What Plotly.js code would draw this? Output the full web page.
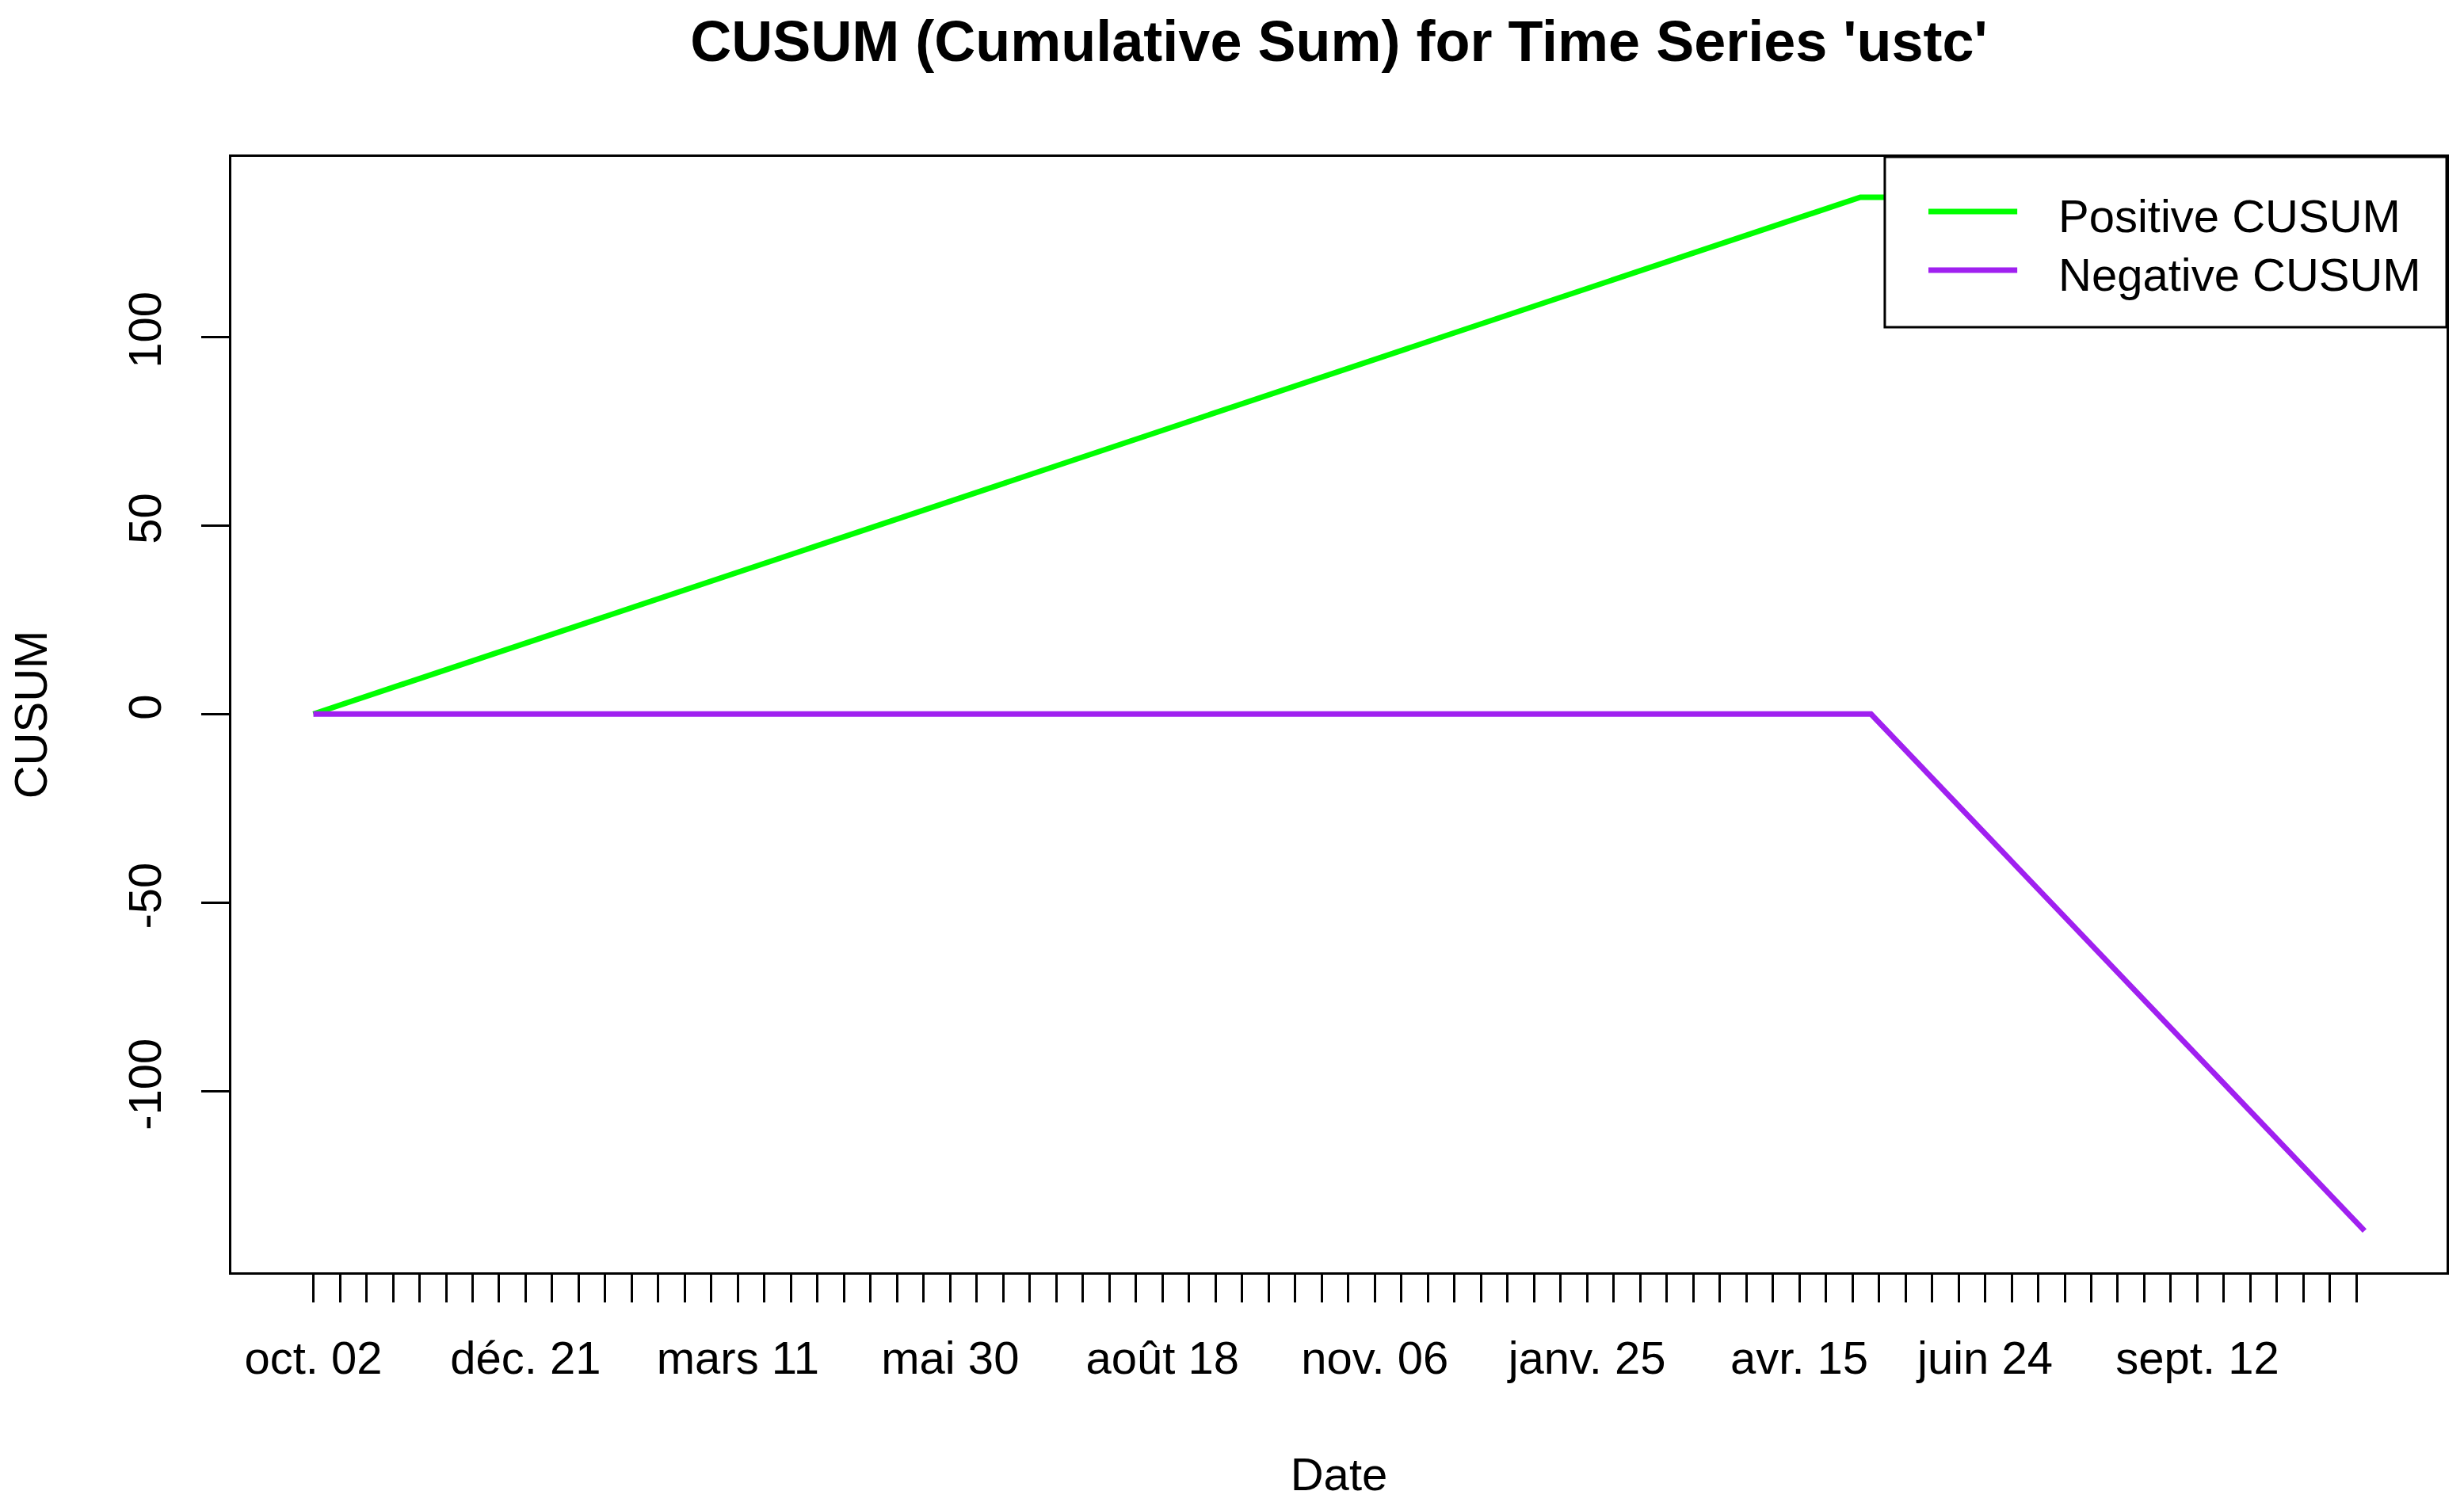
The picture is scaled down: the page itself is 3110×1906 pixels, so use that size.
<!DOCTYPE html>
<html>
<head>
<meta charset="utf-8">
<script src="https://cdn.plot.ly/plotly-3.0.1.min.js"></script>
<style>
  html, body { margin: 0; padding: 0; background: #ffffff; }
  #chart { width: 3110px; height: 1906px; }
</style>
</head>
<body>
<div id="chart"></div>
<script>
// ---- data ----
const seriesNames = ['Positive CUSUM', 'Negative CUSUM'];
const seriesColors = ['#00FF00', '#A020F0'];

const posDates = ['2020-10-02', '2022-05-08', '2022-11-14'];
const posValues = [0, 137, 137];

const negDates = ['2020-10-02', '2022-05-12', '2022-11-14'];
const negValues = [0, 0, -137];

// x tick marks every 10 days, labels only where R could fit them
const tickFirst = '2020-10-02';
const tickLast = '2022-11-11';
const tickStepDays = 10;
const labelDates = ['2020-10-02', '2020-12-21', '2021-03-11', '2021-05-30', '2021-08-18',
                    '2021-11-06', '2022-01-25', '2022-04-15', '2022-06-24', '2022-09-12'];
const labelTexts = ['oct. 02', 'déc. 21', 'mars 11', 'mai 30', 'août 18',
                    'nov. 06', 'janv. 25', 'avr. 15', 'juin 24', 'sept. 12'];

const yTickVals = [-100, -50, 0, 50, 100];
const yTickText = ['-100', '-50', '0', '50', '100'];

const xRange = ['2020-09-01 02:00', '2022-12-14 22:00'];
const yRange = [-148, 147.7];

// ---- build tick arrays ----
function iso(d) { return d.toISOString().slice(0, 10); }
const tickVals = [], tickText = [];
{
  let d = new Date(tickFirst + 'T00:00:00Z');
  const end = new Date(tickLast + 'T00:00:00Z');
  while (d <= end) {
    const s = iso(d);
    tickVals.push(s);
    const i = labelDates.indexOf(s);
    tickText.push(i >= 0 ? labelTexts[i] : '');
    d = new Date(d.getTime() + tickStepDays * 86400000);
  }
}

const FONT = 'Liberation Sans, Arial, Helvetica, sans-serif';

const traces = [
  { x: posDates, y: posValues, type: 'scatter', mode: 'lines', name: seriesNames[0],
    line: { color: seriesColors[0], width: 7 }, showlegend: false },
  { x: negDates, y: negValues, type: 'scatter', mode: 'lines', name: seriesNames[1],
    line: { color: seriesColors[1], width: 7 }, showlegend: false }
];

// legend drawn like R's legend() box (paper coords)
const legX0 = 0.7464, legX1 = 1.0, legY0 = 0.8473, legY1 = 1.0;
const legLineX0 = 0.7661, legLineX1 = 0.8062, legTextX = 0.8240;
const legRowY = [0.951, 0.8984];

const shapes = [
  { type: 'rect', xref: 'paper', yref: 'paper', x0: legX0, x1: legX1, y0: legY0, y1: legY1,
    fillcolor: '#ffffff', line: { color: '#000000', width: 3 }, layer: 'above' }
];
const annotations = [];
seriesNames.forEach((nm, i) => {
  shapes.push({ type: 'line', xref: 'paper', yref: 'paper', x0: legLineX0, x1: legLineX1,
    y0: legRowY[i], y1: legRowY[i], line: { color: seriesColors[i], width: 7 }, layer: 'above' });
  annotations.push({ xref: 'paper', yref: 'paper', x: legTextX, y: legRowY[i] - 0.004,
    xanchor: 'left', yanchor: 'middle', showarrow: false, text: nm,
    font: { family: FONT, size: 58, color: '#000000' } });
});

const layout = {
  width: 3110, height: 1906,
  margin: { l: 292, r: 22, t: 198, b: 300, pad: 0 },
  paper_bgcolor: '#ffffff', plot_bgcolor: '#ffffff',
  font: { family: FONT, size: 58, color: '#000000' },
  showlegend: false,
  title: {
    text: "CUSUM (Cumulative Sum) for Time Series 'ustc'",
    font: { family: FONT, size: 72, color: '#000000', weight: 'bold' },
    x: 0.5, xref: 'paper', xanchor: 'center',
    y: 1 - 52 / 1906, yref: 'container', yanchor: 'middle'
  },
  xaxis: {
    type: 'date', range: xRange, autorange: false,
    tickmode: 'array', tickvals: tickVals, ticktext: tickText,
    ticks: 'outside', ticklen: 35, tickwidth: 3, tickcolor: '#000000',
    showline: true, mirror: true, linecolor: '#000000', linewidth: 3,
    showgrid: false, zeroline: false,
    tickfont: { family: FONT, size: 58, color: '#000000' },
    ticklabelstandoff: 20,
    title: { text: 'Date', font: { family: FONT, size: 58, color: '#000000' }, standoff: 96 }
  },
  yaxis: {
    range: yRange, autorange: false,
    tickmode: 'array', tickvals: yTickVals, ticktext: yTickText, tickangle: -90,
    ticks: 'outside', ticklen: 35, tickwidth: 3, tickcolor: '#000000',
    showline: true, mirror: true, linecolor: '#000000', linewidth: 3,
    showgrid: false, zeroline: false,
    tickfont: { family: FONT, size: 58, color: '#000000' },
    ticklabelstandoff: 28,
    title: { text: 'CUSUM', font: { family: FONT, size: 58, color: '#000000' }, standoff: 72 }
  },
  shapes: shapes,
  annotations: annotations
};

Plotly.newPlot('chart', traces, layout, { staticPlot: true, displayModeBar: false });
</script>
</body>
</html>
